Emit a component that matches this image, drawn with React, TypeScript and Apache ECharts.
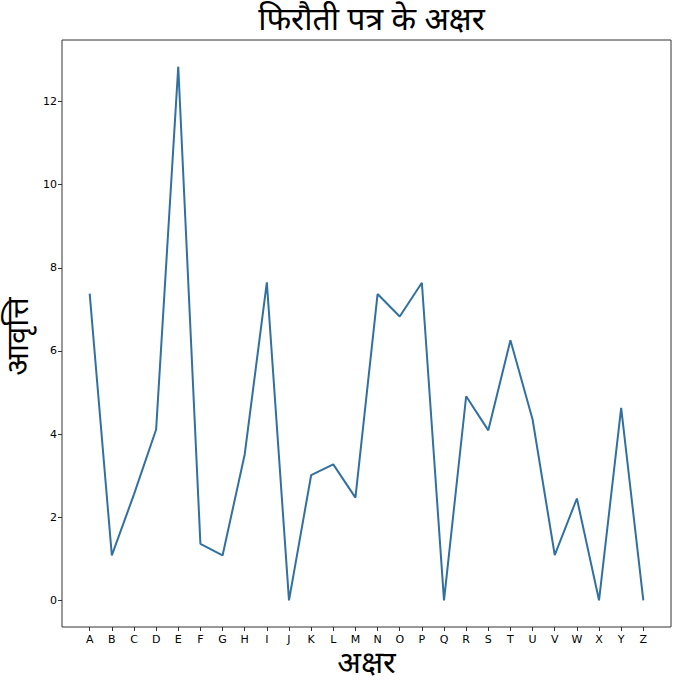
import React, { useEffect, useRef } from "react";
import * as echarts from "echarts";

const letters = ["A","B","C","D","E","F","G","H","I","J","K","L","M","N","O","P","Q","R","S","T","U","V","W","X","Y","Z"];
const frequencies = [7.38,1.08,2.55,4.11,12.84,1.36,1.08,3.51,7.65,0,3.01,3.27,2.47,7.37,6.83,7.64,0,4.91,4.09,6.26,4.35,1.09,2.45,0,4.63,0];
const yTicks = [0, 2, 4, 6, 8, 10, 12];
const titleText = "फिरौती पत्र के अक्षर";
const xLabel = "अक्षर";
const yLabel = "आवृत्ति";

const FONT_DEV = "'Noto Sans Devanagari', 'Noto Sans', 'DejaVu Sans', sans-serif";
const FONT_TICK = "'DejaVu Sans', sans-serif";

export default function App() {
  const ref = useRef<HTMLDivElement>(null);
  useEffect(() => {
    if (!ref.current) return;
    const chart = echarts.init(ref.current, null, { renderer: "svg" });
    const n = letters.length;
    const xPad = (n - 1) * 0.05;
    const yMax = Math.max(...frequencies);
    const yPad = yMax * 0.05;
    const gLeft = 62, gTop = 40, gRight = 683 - 671, gBottom = 685 - 627;
    const cx = (62 + 671) / 2;
    const cy = (40 + 627) / 2;
    chart.setOption({
      animation: false,
      backgroundColor: "#ffffff",
      title: {
        text: titleText,
        left: cx,
        textAlign: "center",
        top: 1,
        textStyle: { fontFamily: FONT_DEV, fontSize: 32, fontWeight: "normal", color: "#000" },
      },
      grid: {
        left: gLeft, top: gTop, right: gRight, bottom: gBottom,
        show: true, borderColor: "#333", borderWidth: 1, backgroundColor: "transparent",
      },
      xAxis: {
        type: "value",
        min: -xPad,
        max: n - 1 + xPad,
        axisLine: { show: false, onZero: false },
        splitLine: { show: false },
        axisTick: { show: true, length: 4, lineStyle: { color: "#333" }, customValues: letters.map((_, i) => i) },
        axisLabel: {
          customValues: letters.map((_, i) => i),
          formatter: (v: number) => letters[Math.round(v)] ?? "",
          fontFamily: FONT_TICK, fontSize: 11, color: "#000", margin: 7,
        },
      },
      yAxis: {
        type: "value",
        min: -yPad,
        max: yMax + yPad,
        axisLine: { show: false, onZero: false },
        splitLine: { show: false },
        axisTick: { show: true, length: 4, lineStyle: { color: "#333" }, customValues: yTicks },
        axisLabel: {
          customValues: yTicks,
          fontFamily: FONT_TICK, fontSize: 11, color: "#000", margin: 5,
        },
      },
      graphic: [
        {
          type: "text",
          x: cx, y: 665,
          style: { text: xLabel, fontFamily: FONT_DEV, fontSize: 31, lineHeight: 31, fill: "#000", align: "center", verticalAlign: "middle" },
        },
        {
          type: "text",
          x: 20, y: cy + 3,
          rotation: Math.PI / 2,
          style: { text: yLabel, fontFamily: FONT_DEV, fontSize: 31, lineHeight: 31, fill: "#000", align: "center", verticalAlign: "middle" },
        },
      ],
      series: [
        {
          type: "line",
          data: frequencies.map((v, i) => [i, v]),
          showSymbol: false,
          symbol: "none",
          lineStyle: { color: "#31709f", width: 2 },
        },
      ],
    });
    return () => chart.dispose();
  }, []);
  return <div ref={ref} style={{ width: 683, height: 685, position: "fixed", left: 0, top: 0 }} />;
}
